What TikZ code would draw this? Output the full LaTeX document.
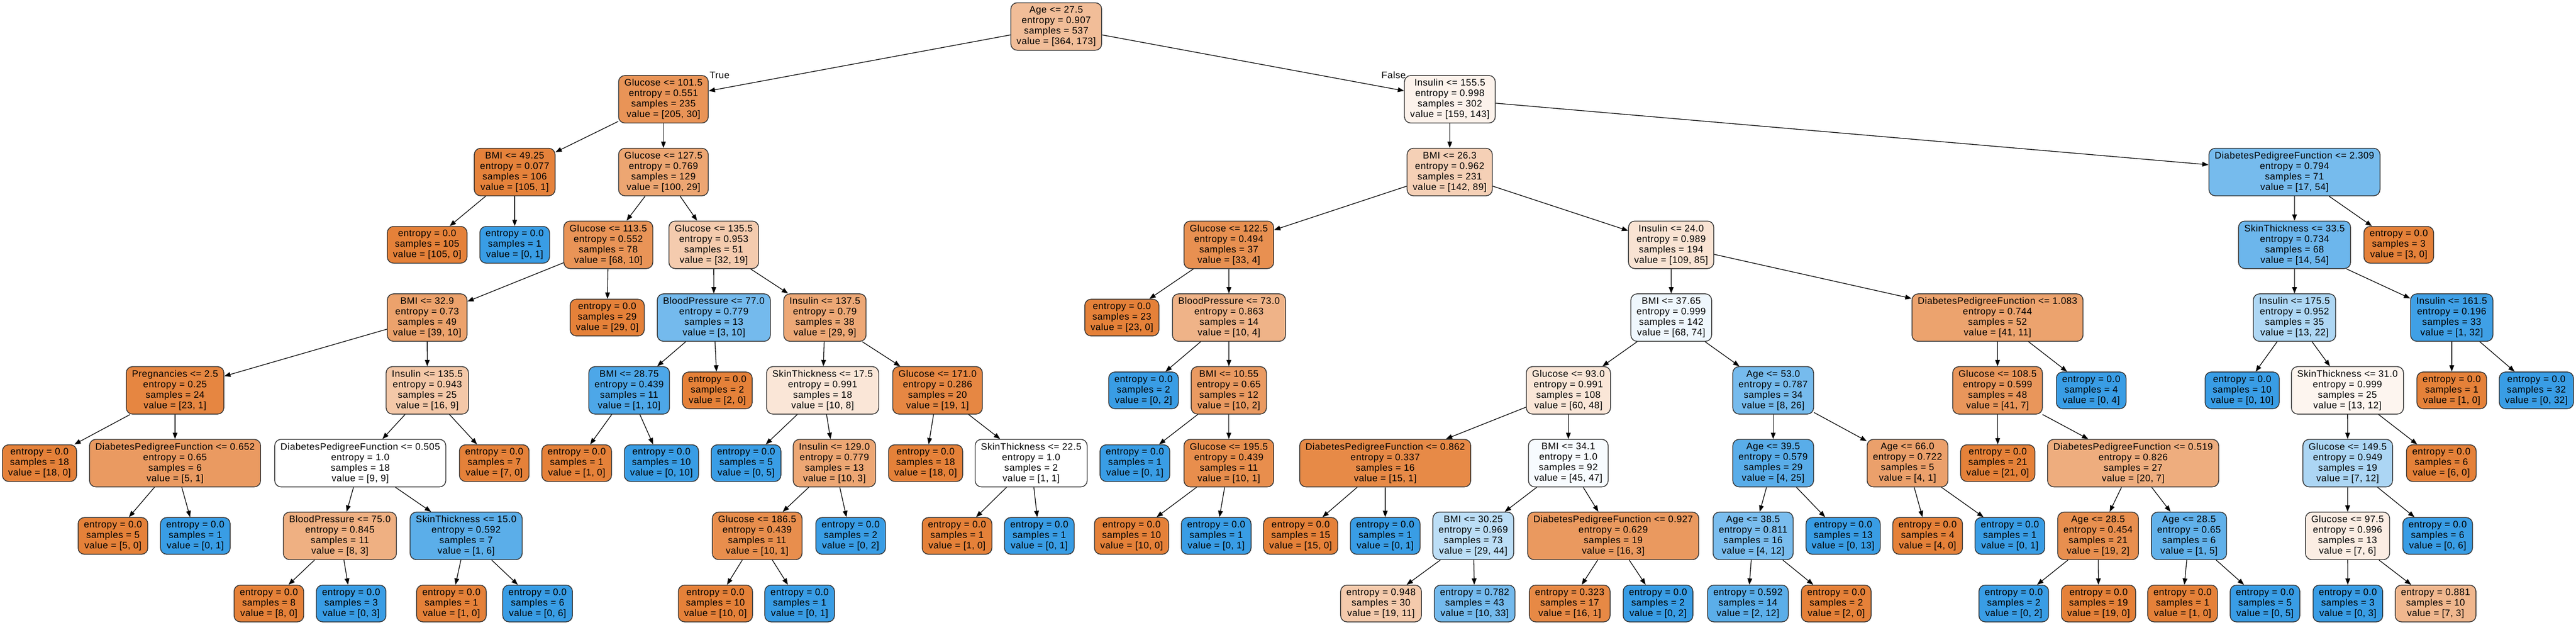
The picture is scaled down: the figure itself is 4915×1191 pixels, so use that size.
\documentclass[tikz,border=0pt]{standalone}
\usepackage{fontspec}
\setmainfont{Liberation Sans}
\newfontfamily\tfont[LetterSpace=3]{Liberation Sans}
\usetikzlibrary{arrows.meta}
\definecolor{cA}{RGB}{229,129,57}
\definecolor{cB}{RGB}{57,157,229}
\definecolor{bord}{RGB}{51,51,51}
\newcommand\mkcol[2]{%
  \pgfmathtruncatemacro\isb{(#2>#1) ? 1 : 0}%
  \ifnum\isb=1
    \pgfmathtruncatemacro\al{round(100*(1-#1/#2))}\def\cc{cB}%
  \else
    \pgfmathtruncatemacro\al{round(100*(1-#2/#1))}\def\cc{cA}%
  \fi}
\newcommand\tnode[7]{%
  \mkcol{#5}{#6}%
  \pgfmathsetmacro\yy{(#3==8) ? 1150 : 50.5+138.67*#3}%
  \node[tn, minimum height=#7, fill=\cc!\al!white] (#1) at (#2,\yy) {#4};}
\newcommand\nd[6]{\tnode{#1}{#2}{#3}{#4}{#5}{#6}{90.5pt}}
\newcommand\lf[6]{\tnode{#1}{#2}{#3}{#4}{#5}{#6}{70pt}}
\tikzset{
  tn/.style={draw=bord, line width=1.5pt, rounded corners=12pt, align=center,
    inner xsep=11pt, inner ysep=5pt, font=\tfont\fontsize{18}{20}\selectfont},
  tedge/.style={draw=black, line width=1.3pt, -{Triangle[length=12pt,width=9pt]}},
  elab/.style={font=\tfont\fontsize{18}{20}\selectfont, inner sep=0pt}
}
\begin{document}
\begin{tikzpicture}[x=1pt,y=-1pt]
\fill[white] (0,0) rectangle (4915,1191);
\useasboundingbox (0,0) rectangle (4915,1191);
% rank 0
\nd{n0}{2015.3}{0}{Age <= 27.5\\entropy = 0.907\\samples = 537\\value = [364, 173]}{364}{173}
% rank 1
\nd{n1}{1265.8}{1}{Glucose <= 101.5\\entropy = 0.551\\samples = 235\\value = [205, 30]}{205}{30}
\nd{n2}{2766.3}{1}{Insulin <= 155.5\\entropy = 0.998\\samples = 302\\value = [159, 143]}{159}{143}
% rank 2
\nd{n3}{982}{2}{BMI <= 49.25\\entropy = 0.077\\samples = 106\\value = [105, 1]}{105}{1}
\nd{n4}{1265.8}{2}{Glucose <= 127.5\\entropy = 0.769\\samples = 129\\value = [100, 29]}{100}{29}
\nd{n5}{2766}{2}{BMI <= 26.3\\entropy = 0.962\\samples = 231\\value = [142, 89]}{142}{89}
\nd{n6}{4377.8}{2}{DiabetesPedigreeFunction <= 2.309\\entropy = 0.794\\samples = 71\\value = [17, 54]}{17}{54}
% rank 3
\lf{n7}{815}{3}{entropy = 0.0\\samples = 105\\value = [105, 0]}{105}{0}
\lf{n8}{982}{3}{entropy = 0.0\\samples = 1\\value = [0, 1]}{0}{1}
\nd{n9}{1160.6}{3}{Glucose <= 113.5\\entropy = 0.552\\samples = 78\\value = [68, 10]}{68}{10}
\nd{n10}{1361.8}{3}{Glucose <= 135.5\\entropy = 0.953\\samples = 51\\value = [32, 19]}{32}{19}
\nd{n11}{2344.6}{3}{Glucose <= 122.5\\entropy = 0.494\\samples = 37\\value = [33, 4]}{33}{4}
\nd{n12}{3188.5}{3}{Insulin <= 24.0\\entropy = 0.989\\samples = 194\\value = [109, 85]}{109}{85}
\nd{n13}{4378}{3}{SkinThickness <= 33.5\\entropy = 0.734\\samples = 68\\value = [14, 54]}{14}{54}
\lf{n14}{4576.8}{3}{entropy = 0.0\\samples = 3\\value = [3, 0]}{3}{0}
% rank 4
\nd{n15}{815}{4}{BMI <= 32.9\\entropy = 0.73\\samples = 49\\value = [39, 10]}{39}{10}
\lf{n16}{1158.5}{4}{entropy = 0.0\\samples = 29\\value = [29, 0]}{29}{0}
\nd{n17}{1362}{4}{BloodPressure <= 77.0\\entropy = 0.779\\samples = 13\\value = [3, 10]}{3}{10}
\nd{n18}{1573.9}{4}{Insulin <= 137.5\\entropy = 0.79\\samples = 38\\value = [29, 9]}{29}{9}
\lf{n19}{2140.5}{4}{entropy = 0.0\\samples = 23\\value = [23, 0]}{23}{0}
\nd{n20}{2344.9}{4}{BloodPressure <= 73.0\\entropy = 0.863\\samples = 14\\value = [10, 4]}{10}{4}
\nd{n21}{3188.7}{4}{BMI <= 37.65\\entropy = 0.999\\samples = 142\\value = [68, 74]}{68}{74}
\nd{n22}{3811.2}{4}{DiabetesPedigreeFunction <= 1.083\\entropy = 0.744\\samples = 52\\value = [41, 11]}{41}{11}
\nd{n23}{4377.8}{4}{Insulin <= 175.5\\entropy = 0.952\\samples = 35\\value = [13, 22]}{13}{22}
\nd{n24}{4677.9}{4}{Insulin <= 161.5\\entropy = 0.196\\samples = 33\\value = [1, 32]}{1}{32}
% rank 5
\nd{n25}{334}{5}{Pregnancies <= 2.5\\entropy = 0.25\\samples = 24\\value = [23, 1]}{23}{1}
\nd{n26}{815.3}{5}{Insulin <= 135.5\\entropy = 0.943\\samples = 25\\value = [16, 9]}{16}{9}
\nd{n27}{1200.4}{5}{BMI <= 28.75\\entropy = 0.439\\samples = 11\\value = [1, 10]}{1}{10}
\lf{n28}{1368.7}{5}{entropy = 0.0\\samples = 2\\value = [2, 0]}{2}{0}
\nd{n29}{1569.6}{5}{SkinThickness <= 17.5\\entropy = 0.991\\samples = 18\\value = [10, 8]}{10}{8}
\nd{n30}{1788.8}{5}{Glucose <= 171.0\\entropy = 0.286\\samples = 20\\value = [19, 1]}{19}{1}
\lf{n31}{2181.8}{5}{entropy = 0.0\\samples = 2\\value = [0, 2]}{0}{2}
\nd{n32}{2344.6}{5}{BMI <= 10.55\\entropy = 0.65\\samples = 12\\value = [10, 2]}{10}{2}
\nd{n33}{2992.5}{5}{Glucose <= 93.0\\entropy = 0.991\\samples = 108\\value = [60, 48]}{60}{48}
\nd{n34}{3383.2}{5}{Age <= 53.0\\entropy = 0.787\\samples = 34\\value = [8, 26]}{8}{26}
\nd{n35}{3811.3}{5}{Glucose <= 108.5\\entropy = 0.599\\samples = 48\\value = [41, 7]}{41}{7}
\lf{n36}{3990}{5}{entropy = 0.0\\samples = 4\\value = [0, 4]}{0}{4}
\lf{n37}{4278}{5}{entropy = 0.0\\samples = 10\\value = [0, 10]}{0}{10}
\nd{n38}{4478.9}{5}{SkinThickness <= 31.0\\entropy = 0.999\\samples = 25\\value = [13, 12]}{13}{12}
\lf{n39}{4677.9}{5}{entropy = 0.0\\samples = 1\\value = [1, 0]}{1}{0}
\lf{n40}{4839.4}{5}{entropy = 0.0\\samples = 32\\value = [0, 32]}{0}{32}
% rank 6
\lf{n41}{75.4}{6}{entropy = 0.0\\samples = 18\\value = [18, 0]}{18}{0}
\nd{n42}{334}{6}{DiabetesPedigreeFunction <= 0.652\\entropy = 0.65\\samples = 6\\value = [5, 1]}{5}{1}
\nd{n43}{687.4}{6}{DiabetesPedigreeFunction <= 0.505\\entropy = 1.0\\samples = 18\\value = [9, 9]}{9}{9}
\lf{n44}{943}{6}{entropy = 0.0\\samples = 7\\value = [7, 0]}{7}{0}
\lf{n45}{1100.3}{6}{entropy = 0.0\\samples = 1\\value = [1, 0]}{1}{0}
\lf{n46}{1262}{6}{entropy = 0.0\\samples = 10\\value = [0, 10]}{0}{10}
\lf{n47}{1423.5}{6}{entropy = 0.0\\samples = 5\\value = [0, 5]}{0}{5}
\nd{n48}{1592}{6}{Insulin <= 129.0\\entropy = 0.779\\samples = 13\\value = [10, 3]}{10}{3}
\lf{n49}{1766}{6}{entropy = 0.0\\samples = 18\\value = [18, 0]}{18}{0}
\nd{n50}{1967.4}{6}{SkinThickness <= 22.5\\entropy = 1.0\\samples = 2\\value = [1, 1]}{1}{1}
\lf{n51}{2165.4}{6}{entropy = 0.0\\samples = 1\\value = [0, 1]}{0}{1}
\nd{n52}{2344.6}{6}{Glucose <= 195.5\\entropy = 0.439\\samples = 11\\value = [10, 1]}{10}{1}
\nd{n53}{2643}{6}{DiabetesPedigreeFunction <= 0.862\\entropy = 0.337\\samples = 16\\value = [15, 1]}{15}{1}
\nd{n54}{2992.3}{6}{BMI <= 34.1\\entropy = 1.0\\samples = 92\\value = [45, 47]}{45}{47}
\nd{n55}{3383.2}{6}{Age <= 39.5\\entropy = 0.579\\samples = 29\\value = [4, 25]}{4}{25}
\nd{n56}{3639.5}{6}{Age <= 66.0\\entropy = 0.722\\samples = 5\\value = [4, 1]}{4}{1}
\lf{n57}{3811.7}{6}{entropy = 0.0\\samples = 21\\value = [21, 0]}{21}{0}
\nd{n58}{4070}{6}{DiabetesPedigreeFunction <= 0.519\\entropy = 0.826\\samples = 27\\value = [20, 7]}{20}{7}
\nd{n59}{4479.4}{6}{Glucose <= 149.5\\entropy = 0.949\\samples = 19\\value = [7, 12]}{7}{12}
\lf{n60}{4658}{6}{entropy = 0.0\\samples = 6\\value = [6, 0]}{6}{0}
% rank 7
\lf{n61}{215.5}{7}{entropy = 0.0\\samples = 5\\value = [5, 0]}{5}{0}
\lf{n62}{372.7}{7}{entropy = 0.0\\samples = 1\\value = [0, 1]}{0}{1}
\nd{n63}{648.5}{7}{BloodPressure <= 75.0\\entropy = 0.845\\samples = 11\\value = [8, 3]}{8}{3}
\nd{n64}{889.4}{7}{SkinThickness <= 15.0\\entropy = 0.592\\samples = 7\\value = [1, 6]}{1}{6}
\nd{n65}{1444.7}{7}{Glucose <= 186.5\\entropy = 0.439\\samples = 11\\value = [10, 1]}{10}{1}
\lf{n66}{1623}{7}{entropy = 0.0\\samples = 2\\value = [0, 2]}{0}{2}
\lf{n67}{1826}{7}{entropy = 0.0\\samples = 1\\value = [1, 0]}{1}{0}
\lf{n68}{1983}{7}{entropy = 0.0\\samples = 1\\value = [0, 1]}{0}{1}
\lf{n69}{2159}{7}{entropy = 0.0\\samples = 10\\value = [10, 0]}{10}{0}
\lf{n70}{2320.5}{7}{entropy = 0.0\\samples = 1\\value = [0, 1]}{0}{1}
\lf{n71}{2481.7}{7}{entropy = 0.0\\samples = 15\\value = [15, 0]}{15}{0}
\lf{n72}{2643}{7}{entropy = 0.0\\samples = 1\\value = [0, 1]}{0}{1}
\nd{n73}{2811}{7}{BMI <= 30.25\\entropy = 0.969\\samples = 73\\value = [29, 44]}{29}{44}
\nd{n74}{3078}{7}{DiabetesPedigreeFunction <= 0.927\\entropy = 0.629\\samples = 19\\value = [16, 3]}{16}{3}
\nd{n75}{3344.9}{7}{Age <= 38.5\\entropy = 0.811\\samples = 16\\value = [4, 12]}{4}{12}
\lf{n76}{3516.7}{7}{entropy = 0.0\\samples = 13\\value = [0, 13]}{0}{13}
\lf{n77}{3677.9}{7}{entropy = 0.0\\samples = 4\\value = [4, 0]}{4}{0}
\lf{n78}{3834.8}{7}{entropy = 0.0\\samples = 1\\value = [0, 1]}{0}{1}
\nd{n79}{4003.1}{7}{Age <= 28.5\\entropy = 0.454\\samples = 21\\value = [19, 2]}{19}{2}
\nd{n80}{4176.6}{7}{Age <= 28.5\\entropy = 0.65\\samples = 6\\value = [1, 5]}{1}{5}
\nd{n81}{4479.1}{7}{Glucose <= 97.5\\entropy = 0.996\\samples = 13\\value = [7, 6]}{7}{6}
\lf{n82}{4651}{7}{entropy = 0.0\\samples = 6\\value = [0, 6]}{0}{6}
% rank 8
\lf{n83}{513}{8}{entropy = 0.0\\samples = 8\\value = [8, 0]}{8}{0}
\lf{n84}{670}{8}{entropy = 0.0\\samples = 3\\value = [0, 3]}{0}{3}
\lf{n85}{861.3}{8}{entropy = 0.0\\samples = 1\\value = [1, 0]}{1}{0}
\lf{n86}{1025.7}{8}{entropy = 0.0\\samples = 6\\value = [0, 6]}{0}{6}
\lf{n87}{1365}{8}{entropy = 0.0\\samples = 10\\value = [10, 0]}{10}{0}
\lf{n88}{1525.7}{8}{entropy = 0.0\\samples = 1\\value = [0, 1]}{0}{1}
\lf{n89}{2635}{8}{entropy = 0.948\\samples = 30\\value = [19, 11]}{19}{11}
\lf{n90}{2813.6}{8}{entropy = 0.782\\samples = 43\\value = [10, 33]}{10}{33}
\lf{n91}{2995}{8}{entropy = 0.323\\samples = 17\\value = [16, 1]}{16}{1}
\lf{n92}{3163.5}{8}{entropy = 0.0\\samples = 2\\value = [0, 2]}{0}{2}
\lf{n93}{3335}{8}{entropy = 0.592\\samples = 14\\value = [2, 12]}{2}{12}
\lf{n94}{3503.6}{8}{entropy = 0.0\\samples = 2\\value = [2, 0]}{2}{0}
\lf{n95}{3842.2}{8}{entropy = 0.0\\samples = 2\\value = [0, 2]}{0}{2}
\lf{n96}{4004}{8}{entropy = 0.0\\samples = 19\\value = [19, 0]}{19}{0}
\lf{n97}{4164.4}{8}{entropy = 0.0\\samples = 1\\value = [1, 0]}{1}{0}
\lf{n98}{4321.6}{8}{entropy = 0.0\\samples = 5\\value = [0, 5]}{0}{5}
\lf{n99}{4479.7}{8}{entropy = 0.0\\samples = 3\\value = [0, 3]}{0}{3}
\lf{n100}{4647}{8}{entropy = 0.881\\samples = 10\\value = [7, 3]}{7}{3}
% edges
\foreach \p/\c in {n0/n1,n0/n2,n1/n3,n1/n4,n2/n5,n2/n6,
  n3/n7,n3/n8,n4/n9,n4/n10,n5/n11,n5/n12,n6/n13,n6/n14,
  n9/n15,n9/n16,n10/n17,n10/n18,n11/n19,n11/n20,n12/n21,n12/n22,n13/n23,n13/n24,
  n15/n25,n15/n26,n17/n27,n17/n28,n18/n29,n18/n30,n20/n31,n20/n32,n21/n33,n21/n34,
  n22/n35,n22/n36,n23/n37,n23/n38,n24/n39,n24/n40,
  n25/n41,n25/n42,n26/n43,n26/n44,n27/n45,n27/n46,n29/n47,n29/n48,n30/n49,n30/n50,
  n32/n51,n32/n52,n33/n53,n33/n54,n34/n55,n34/n56,n35/n57,n35/n58,n38/n59,n38/n60,
  n42/n61,n42/n62,n43/n63,n43/n64,n48/n65,n48/n66,n50/n67,n50/n68,n52/n69,n52/n70,
  n53/n71,n53/n72,n54/n73,n54/n74,n55/n75,n55/n76,n56/n77,n56/n78,n58/n79,n58/n80,
  n59/n81,n59/n82,
  n63/n83,n63/n84,n64/n85,n64/n86,n65/n87,n65/n88,n73/n89,n73/n90,n74/n91,n74/n92,
  n75/n93,n75/n94,n79/n95,n79/n96,n80/n97,n80/n98,n81/n99,n81/n100}
  \draw[tedge] (\p) -- (\c);
\node[elab] (tlab) at (1373,143) {True};
\node[elab] (flab) at (2659,143) {False};
\end{tikzpicture}
\end{document}
